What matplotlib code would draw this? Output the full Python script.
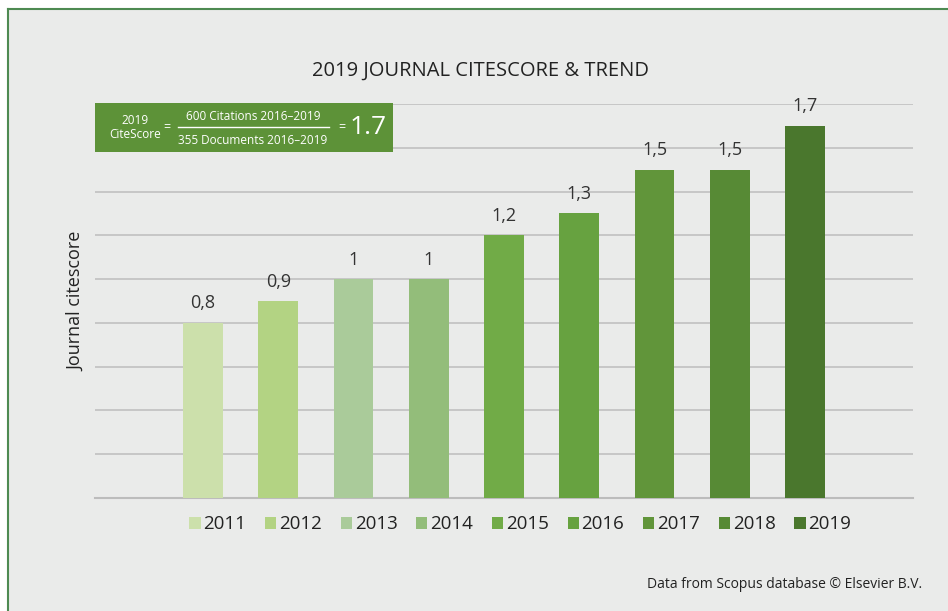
import matplotlib
matplotlib.use("Agg")
import matplotlib.pyplot as plt
from matplotlib.patches import Rectangle
from matplotlib.lines import Line2D

years = ["2011", "2012", "2013", "2014", "2015", "2016", "2017", "2018", "2019"]
scores = [0.8, 0.9, 1.0, 1.0, 1.2, 1.3, 1.5, 1.5, 1.7]
value_labels = ["0,8", "0,9", "1", "1", "1,2", "1,3", "1,5", "1,5", "1,7"]
colors = ["#cce0ab", "#b3d383", "#aacb9a", "#93bd7a", "#71ab47",
          "#67a240", "#61953a", "#578a35", "#4a772d"]

title = "2019 JOURNAL CITESCORE & TREND"
ylabel = "Journal citescore"
footnote = "Data from Scopus database \u00a9 Elsevier B.V."
numerator = "600 Citations 2016\u20132019"
denominator = "355 Documents 2016\u20132019"
citescore = "1.7"

plt.rcParams['font.family'] = ['Open Sans', 'DejaVu Sans']

W, H = 948, 611
fig = plt.figure(figsize=(W / 100, H / 100), dpi=100)
fig.patch.set_facecolor("white")

bg = "#eaebea"
# panel background with green border on top/left
fig.patches.append(Rectangle((8 / W, 0), 1.0, 1 - 9 / H, transform=fig.transFigure,
                             facecolor=bg, edgecolor="none", zorder=-10))
fig.lines.append(Line2D([8 / W, 1], [1 - 9 / H, 1 - 9 / H], transform=fig.transFigure,
                        color="#4e8a52", lw=1.5))
fig.lines.append(Line2D([8 / W, 8 / W], [0, 1 - 9 / H], transform=fig.transFigure,
                        color="#4e8a52", lw=1.5))

ax = fig.add_axes([95 / W, 1 - 498 / H, (913 - 95) / W, (498 - 104) / H])
ax.set_facecolor("none")
x = list(range(len(years)))
bars = ax.bar(x, scores, width=0.53, color=colors, zorder=3)
ax.set_xlim(-1.435, len(years) - 1 + 1.435)
ax.set_ylim(0, 1.8)
ax.set_yticks([0.2 * i for i in range(1, 10)])
ax.yaxis.grid(True, color="#c4c4c4", lw=1.3)
ax.set_axisbelow(True)
ax.tick_params(left=False, bottom=False, labelleft=False, labelbottom=False)
for s in ["top", "right", "left"]:
    ax.spines[s].set_visible(False)
ax.spines["bottom"].set_color("#bcbcbc")
ax.spines["bottom"].set_linewidth(1.5)

for xi, v, lab in zip(x, scores, value_labels):
    ax.annotate(lab, (xi, v), xytext=(0, 7.5), textcoords="offset points",
                ha="center", va="bottom", fontsize=13, color="#333333")

ax.set_ylabel(ylabel, fontsize=13, color="#222222", labelpad=7)

handles = [Rectangle((0, 0), 1, 1, facecolor=c) for c in colors]
leg = ax.legend(handles, years, ncol=9, loc="upper center", bbox_to_anchor=(0.52, -0.02),
                frameon=False, fontsize=13.5, handlelength=0.6, handleheight=0.6,
                handletextpad=0.15, columnspacing=1.0, borderpad=0,
                labelcolor="#222222")

fig.text(481 / W, 1 - 71 / H, title, ha="center", va="center", fontsize=14.5,
         color="#222222")
fig.text(922 / W, 1 - 584 / H, footnote, ha="right", va="center", fontsize=10,
         color="#222222")

# CiteScore formula box
fig.patches.append(Rectangle((95 / W, 1 - 152 / H), (393 - 95) / W, (152 - 103) / H,
                             transform=fig.transFigure, facecolor="#5d9238",
                             edgecolor="none", zorder=5))
fig.text(135 / W, 1 - 127 / H, "2019\nCiteScore", ha="center", va="center",
         fontsize=8.5, color="white", linespacing=1.1, zorder=6)
fig.text(167 / W, 1 - 128 / H, "=", ha="center", va="center", fontsize=9,
         color="white", zorder=6)
fig.text(253 / W, 1 - 116 / H, numerator, ha="center", va="center", fontsize=8.5,
         color="white", zorder=6)
fig.text(253 / W, 1 - 140 / H, denominator, ha="center", va="center", fontsize=8.5,
         color="white", zorder=6)
fig.lines.append(Line2D([178 / W, 329 / W], [1 - 127 / H, 1 - 127 / H],
                        transform=fig.transFigure, color="white", lw=1, zorder=6))
fig.text(342 / W, 1 - 128 / H, "=", ha="center", va="center", fontsize=9,
         color="white", zorder=6)
fig.text(368 / W, 1 - 128 / H, citescore, ha="center", va="center", fontsize=19,
         color="white", zorder=6)

fig.savefig("out.png", dpi=100, facecolor=fig.get_facecolor())
